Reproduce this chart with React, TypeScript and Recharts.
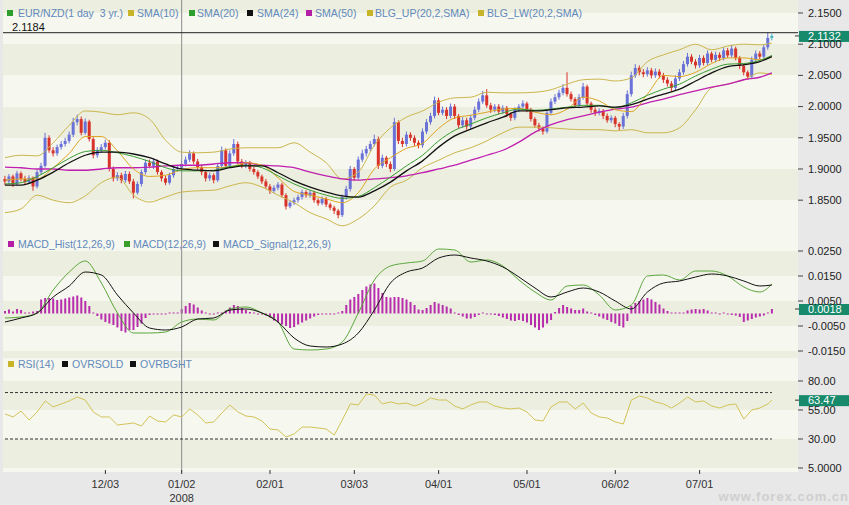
import React from "react";
import { ComposedChart, Bar, Line, XAxis, YAxis, CartesianGrid, ReferenceLine } from "recharts";

// bar slots on the x axis; bars 0..191 hold data, the rest is empty room on the right
const SLOTS = 198;

const opens = [
  1.884, 1.880, 1.888, 1.876, 1.893, 1.884, 1.879, 1.886, 1.872, 1.895,
  1.905, 1.950, 1.930, 1.925, 1.935, 1.940, 1.945, 1.955, 1.975, 1.980,
  1.958, 1.976, 1.948, 1.922, 1.930, 1.935, 1.942, 1.900, 1.885, 1.890,
  1.882, 1.892, 1.880, 1.862, 1.876, 1.895, 1.910, 1.905, 1.912, 1.895,
  1.885, 1.878, 1.890, 1.900, 1.902, 1.908, 1.915, 1.925, 1.912, 1.903,
  1.895, 1.885, 1.890, 1.882, 1.905, 1.930, 1.905, 1.925, 1.940, 1.912,
  1.905, 1.910, 1.900, 1.895, 1.888, 1.880, 1.872, 1.865, 1.870, 1.875,
  1.858, 1.840, 1.846, 1.850, 1.855, 1.863, 1.858, 1.862, 1.850, 1.845,
  1.852, 1.843, 1.838, 1.833, 1.826, 1.855, 1.868, 1.900, 1.886, 1.915,
  1.925, 1.932, 1.940, 1.948, 1.905, 1.918, 1.908, 1.900, 1.975, 1.945,
  1.940, 1.955, 1.950, 1.942, 1.938, 1.960, 1.975, 1.985, 2.010, 1.990,
  1.995, 1.985, 2.000, 1.985, 1.970, 1.978, 1.968, 1.982, 1.995, 2.008,
  2.018, 2.002, 1.995, 2.000, 1.992, 1.998, 1.988, 1.982, 1.995, 2.000,
  2.005, 1.995, 1.980, 1.970, 1.965, 1.960, 1.990, 2.008, 2.015, 2.022,
  2.030, 2.020, 2.012, 2.002, 2.015, 2.032, 2.005, 1.995, 1.990, 1.993,
  1.985, 1.978, 1.982, 1.972, 1.968, 1.985, 2.020, 2.050, 2.062, 2.055,
  2.052, 2.058, 2.050, 2.056, 2.050, 2.043, 2.037, 2.030, 2.045, 2.055,
  2.068, 2.080, 2.072, 2.066, 2.078, 2.070, 2.085, 2.075, 2.083, 2.078,
  2.090, 2.082, 2.093, 2.078, 2.065, 2.055, 2.048, 2.075, 2.085, 2.080,
  2.095, 2.110,
];

const highs = [
  1.889, 1.892, 1.891, 1.897, 1.896, 1.889, 1.890, 1.888, 1.899, 1.910,
  1.958, 1.954, 1.935, 1.939, 1.945, 1.950, 1.960, 1.982, 1.987, 1.984,
  1.981, 1.979, 1.951, 1.935, 1.940, 1.947, 1.946, 1.904, 1.895, 1.894,
  1.897, 1.896, 1.884, 1.880, 1.899, 1.915, 1.915, 1.917, 1.915, 1.898,
  1.889, 1.894, 1.904, 1.907, 1.913, 1.920, 1.930, 1.928, 1.916, 1.907,
  1.898, 1.894, 1.893, 1.909, 1.936, 1.933, 1.930, 1.948, 1.944, 1.916,
  1.914, 1.913, 1.904, 1.898, 1.891, 1.884, 1.876, 1.874, 1.879, 1.878,
  1.861, 1.850, 1.854, 1.859, 1.867, 1.866, 1.866, 1.865, 1.853, 1.856,
  1.855, 1.846, 1.841, 1.836, 1.859, 1.873, 1.905, 1.903, 1.920, 1.931,
  1.937, 1.945, 1.955, 1.952, 1.923, 1.921, 1.912, 1.982, 1.978, 1.950,
  1.960, 1.959, 1.954, 1.946, 1.965, 1.980, 1.990, 2.016, 2.014, 2.000,
  1.999, 2.005, 2.004, 1.988, 1.983, 1.982, 1.987, 2.000, 2.013, 2.025,
  2.028, 2.006, 2.004, 2.004, 2.002, 2.001, 1.991, 1.999, 2.004, 2.010,
  2.008, 1.998, 1.983, 1.974, 1.968, 1.995, 2.013, 2.020, 2.027, 2.036,
  2.055, 2.024, 2.015, 2.020, 2.038, 2.035, 2.008, 1.999, 1.997, 1.996,
  1.989, 1.986, 1.985, 1.975, 1.990, 2.026, 2.056, 2.068, 2.066, 2.060,
  2.063, 2.062, 2.061, 2.060, 2.054, 2.047, 2.041, 2.050, 2.060, 2.073,
  2.086, 2.084, 2.076, 2.083, 2.082, 2.090, 2.088, 2.088, 2.087, 2.095,
  2.094, 2.099, 2.096, 2.081, 2.068, 2.058, 2.080, 2.090, 2.089, 2.100,
  2.1184, 2.117,
];

const lows = [
  1.874, 1.876, 1.871, 1.873, 1.880, 1.875, 1.876, 1.865, 1.869, 1.891,
  1.902, 1.926, 1.920, 1.921, 1.931, 1.936, 1.941, 1.951, 1.970, 1.954,
  1.955, 1.944, 1.917, 1.918, 1.926, 1.931, 1.896, 1.880, 1.881, 1.877,
  1.878, 1.876, 1.853, 1.859, 1.872, 1.891, 1.901, 1.900, 1.891, 1.880,
  1.874, 1.875, 1.886, 1.896, 1.898, 1.904, 1.911, 1.908, 1.899, 1.890,
  1.880, 1.881, 1.877, 1.879, 1.901, 1.900, 1.902, 1.921, 1.908, 1.901,
  1.901, 1.896, 1.891, 1.884, 1.876, 1.868, 1.860, 1.861, 1.866, 1.854,
  1.835, 1.837, 1.842, 1.846, 1.851, 1.854, 1.854, 1.846, 1.841, 1.842,
  1.839, 1.834, 1.828, 1.821, 1.823, 1.851, 1.864, 1.881, 1.883, 1.911,
  1.920, 1.928, 1.936, 1.900, 1.901, 1.903, 1.895, 1.897, 1.940, 1.935,
  1.936, 1.945, 1.937, 1.933, 1.934, 1.956, 1.971, 1.981, 1.986, 1.986,
  1.980, 1.981, 1.980, 1.965, 1.966, 1.963, 1.964, 1.978, 1.991, 2.004,
  1.998, 1.990, 1.991, 1.988, 1.988, 1.983, 1.977, 1.978, 1.991, 1.996,
  1.991, 1.976, 1.966, 1.960, 1.955, 1.957, 1.986, 2.004, 2.011, 2.018,
  2.016, 2.008, 1.998, 1.998, 2.011, 2.001, 1.990, 1.985, 1.986, 1.980,
  1.974, 1.974, 1.967, 1.962, 1.964, 1.981, 2.016, 2.046, 2.050, 2.047,
  2.048, 2.045, 2.046, 2.045, 2.038, 2.032, 2.025, 2.026, 2.041, 2.051,
  2.064, 2.068, 2.061, 2.062, 2.066, 2.066, 2.071, 2.071, 2.073, 2.074,
  2.078, 2.078, 2.074, 2.060, 2.050, 2.043, 2.045, 2.071, 2.076, 2.077,
  2.091, 2.106,
];

const closes = [
  1.880, 1.888, 1.876, 1.893, 1.884, 1.879, 1.886, 1.872, 1.895, 1.905,
  1.950, 1.930, 1.925, 1.935, 1.940, 1.945, 1.955, 1.975, 1.980, 1.958,
  1.976, 1.948, 1.922, 1.930, 1.935, 1.942, 1.900, 1.885, 1.890, 1.882,
  1.892, 1.880, 1.862, 1.876, 1.895, 1.910, 1.905, 1.912, 1.895, 1.885,
  1.878, 1.890, 1.900, 1.902, 1.908, 1.915, 1.925, 1.912, 1.903, 1.895,
  1.885, 1.890, 1.882, 1.905, 1.930, 1.905, 1.925, 1.940, 1.912, 1.905,
  1.910, 1.900, 1.895, 1.888, 1.880, 1.872, 1.865, 1.870, 1.875, 1.858,
  1.840, 1.846, 1.850, 1.855, 1.863, 1.858, 1.862, 1.850, 1.845, 1.852,
  1.843, 1.838, 1.833, 1.826, 1.855, 1.868, 1.900, 1.886, 1.915, 1.925,
  1.932, 1.940, 1.948, 1.905, 1.918, 1.908, 1.900, 1.975, 1.945, 1.940,
  1.955, 1.950, 1.942, 1.938, 1.960, 1.975, 1.985, 2.010, 1.990, 1.995,
  1.985, 2.000, 1.985, 1.970, 1.978, 1.968, 1.982, 1.995, 2.008, 2.018,
  2.002, 1.995, 2.000, 1.992, 1.998, 1.988, 1.982, 1.995, 2.000, 2.005,
  1.995, 1.980, 1.970, 1.965, 1.960, 1.990, 2.008, 2.015, 2.022, 2.030,
  2.020, 2.012, 2.002, 2.015, 2.032, 2.005, 1.995, 1.990, 1.993, 1.985,
  1.978, 1.982, 1.972, 1.968, 1.985, 2.020, 2.050, 2.062, 2.055, 2.052,
  2.058, 2.050, 2.056, 2.050, 2.043, 2.037, 2.030, 2.045, 2.055, 2.068,
  2.080, 2.072, 2.066, 2.078, 2.070, 2.085, 2.075, 2.083, 2.078, 2.090,
  2.082, 2.093, 2.078, 2.065, 2.055, 2.048, 2.075, 2.085, 2.080, 2.095,
  2.110, 2.1132,
];

// indicator lines every 4th bar (plus the last bar)
const lineBars = [...Array.from({ length: 48 }, (_, k) => k * 4), 191];

const sma10 = [
  1.882, 1.884, 1.884, 1.902, 1.925, 1.952, 1.952, 1.929, 1.900, 1.888,
  1.890, 1.899, 1.902, 1.902, 1.903, 1.910, 1.906, 1.886, 1.864, 1.858,
  1.852, 1.846, 1.862, 1.900, 1.918, 1.933, 1.941, 1.965, 1.982, 1.986,
  1.991, 1.996, 1.997, 1.991, 1.987, 1.996, 2.015, 2.009, 1.995, 1.992,
  2.020, 2.050, 2.048, 2.055, 2.069, 2.078, 2.078, 2.075, 2.080,
];
const sma20 = [
  1.876, 1.878, 1.888, 1.902, 1.917, 1.928, 1.930, 1.926, 1.920, 1.912,
  1.902, 1.897, 1.897, 1.898, 1.904, 1.906, 1.902, 1.889, 1.876, 1.866,
  1.858, 1.853, 1.856, 1.870, 1.887, 1.905, 1.922, 1.945, 1.962, 1.972,
  1.982, 1.990, 1.996, 1.994, 1.996, 1.999, 2.002, 2.002, 1.998, 2.006,
  2.018, 2.028, 2.036, 2.049, 2.060, 2.068, 2.069, 2.074, 2.082,
];
const sma24 = [
  1.874, 1.874, 1.882, 1.895, 1.910, 1.922, 1.927, 1.927, 1.924, 1.918,
  1.908, 1.900, 1.898, 1.897, 1.902, 1.905, 1.905, 1.894, 1.881, 1.871,
  1.863, 1.857, 1.855, 1.865, 1.879, 1.897, 1.913, 1.935, 1.953, 1.964,
  1.974, 1.983, 1.993, 1.993, 1.995, 1.998, 1.999, 2.001, 1.999, 2.003,
  2.012, 2.020, 2.028, 2.041, 2.054, 2.064, 2.067, 2.072, 2.080,
];
const sma50 = [
  1.903, 1.902, 1.900, 1.900, 1.898, 1.898, 1.900, 1.902, 1.902, 1.903,
  1.905, 1.906, 1.906, 1.908, 1.910, 1.910, 1.906, 1.905, 1.902, 1.895,
  1.889, 1.884, 1.882, 1.884, 1.886, 1.889, 1.894, 1.900, 1.906, 1.914,
  1.922, 1.930, 1.943, 1.959, 1.971, 1.979, 1.985, 1.991, 1.996, 1.999,
  2.006, 2.012, 2.019, 2.025, 2.031, 2.036, 2.043, 2.047, 2.054,
];
const bbUpper = [
  1.918, 1.922, 1.921, 1.942, 1.970, 1.993, 1.991, 1.987, 1.990, 1.980,
  1.946, 1.927, 1.926, 1.927, 1.932, 1.934, 1.934, 1.934, 1.942, 1.927,
  1.910, 1.884, 1.895, 1.938, 1.966, 1.983, 1.993, 2.007, 2.014, 2.015,
  2.023, 2.022, 2.022, 2.023, 2.027, 2.036, 2.043, 2.044, 2.041, 2.046,
  2.072, 2.083, 2.091, 2.100, 2.091, 2.097, 2.100, 2.099, 2.102,
];
const bbLower = [
  1.830, 1.836, 1.858, 1.850, 1.846, 1.857, 1.878, 1.887, 1.858, 1.847,
  1.855, 1.863, 1.865, 1.866, 1.873, 1.878, 1.871, 1.858, 1.846, 1.830,
  1.820, 1.809, 1.820, 1.841, 1.871, 1.882, 1.902, 1.914, 1.926, 1.934,
  1.945, 1.958, 1.967, 1.967, 1.966, 1.964, 1.963, 1.963, 1.961, 1.963,
  1.958, 1.958, 1.966, 1.995, 2.030, 2.036, 2.043, 2.054, 2.051,
];

const macd = [
  -0.0018, -0.0014, 0.0002, 0.0094, 0.0166, 0.0210, 0.0122, 0.0002, -0.0078, -0.0078,
  -0.0074, -0.0034, -0.0022, -0.0026, 0.0018, 0.0026, 0.0002, -0.0034, -0.0142, -0.0146,
  -0.0142, -0.0114, 0.0002, 0.0134, 0.0190, 0.0202, 0.0210, 0.0258, 0.0254, 0.0206,
  0.0214, 0.0190, 0.0134, 0.0086, 0.0054, 0.0110, 0.0114, 0.0074, 0.0014, 0.0034,
  0.0150, 0.0154, 0.0134, 0.0170, 0.0170, 0.0150, 0.0106, 0.0086, 0.0118,
];
const macdSignal = [
  -0.0034, -0.0018, 0.0002, 0.0066, 0.0110, 0.0166, 0.0154, 0.0074, 0.0002, -0.0058,
  -0.0066, -0.0054, -0.0022, -0.0018, 0.0014, 0.0018, 0.0002, -0.0034, -0.0098, -0.0130,
  -0.0134, -0.0122, -0.0078, 0.0014, 0.0122, 0.0166, 0.0182, 0.0222, 0.0234, 0.0222,
  0.0210, 0.0186, 0.0146, 0.0102, 0.0066, 0.0086, 0.0102, 0.0086, 0.0050, 0.0018,
  0.0086, 0.0122, 0.0130, 0.0146, 0.0158, 0.0150, 0.0130, 0.0110, 0.0114,
];

// histogram, one value per bar
const macdHist = [
  0.0010, 0.0016, 0.0008, 0.0018, 0.0014, 0.0004, 0.0002, 0.0008, 0.0010, 0.0056,
  0.0062, 0.0062, 0.0060, 0.0054, 0.0056, 0.0060, 0.0064, 0.0068, 0.0072, 0.0064,
  0.0050, 0.0030, 0.0004, -0.0010, -0.0024, -0.0034, -0.0040, -0.0046, -0.0056, -0.0070,
  -0.0076, -0.0066, -0.0066, -0.0054, -0.0040, -0.0018, -0.0006, -0.0004, -0.0002, -0.0004,
  -0.0002, 0.0000, 0.0002, 0.0004, 0.0018, 0.0030, 0.0042, 0.0036, 0.0024, 0.0012,
  0.0004, -0.0002, -0.0004, 0.0002, 0.0004, 0.0012, 0.0024, 0.0034, 0.0030, 0.0022,
  0.0014, 0.0006, 0.0002, -0.0002, -0.0004, -0.0008, -0.0016, -0.0028, -0.0036, -0.0044,
  -0.0050, -0.0058, -0.0054, -0.0044, -0.0036, -0.0028, -0.0020, -0.0012, -0.0006, -0.0004,
  -0.0002, -0.0004, -0.0002, 0.0000, 0.0010, 0.0034, 0.0056, 0.0066, 0.0078, 0.0094,
  0.0108, 0.0116, 0.0120, 0.0102, 0.0082, 0.0066, 0.0064, 0.0066, 0.0066, 0.0062,
  0.0056, 0.0046, 0.0034, 0.0016, 0.0014, 0.0022, 0.0034, 0.0046, 0.0040, 0.0034,
  0.0028, 0.0020, 0.0004, -0.0006, -0.0012, -0.0020, -0.0020, -0.0014, -0.0006, 0.0000,
  -0.0002, -0.0004, -0.0006, -0.0010, -0.0016, -0.0022, -0.0028, -0.0030, -0.0026, -0.0030,
  -0.0036, -0.0046, -0.0056, -0.0066, -0.0056, -0.0040, -0.0026, 0.0006, 0.0022, 0.0034,
  0.0026, 0.0020, 0.0014, 0.0014, 0.0020, 0.0008, 0.0002, -0.0006, -0.0012, -0.0020,
  -0.0026, -0.0034, -0.0040, -0.0050, -0.0056, -0.0030, 0.0030, 0.0042, 0.0050, 0.0056,
  0.0062, 0.0056, 0.0046, 0.0036, 0.0020, 0.0010, 0.0004, 0.0000, 0.0000, 0.0004,
  0.0012, 0.0016, 0.0018, 0.0016, 0.0018, 0.0012, 0.0002, 0.0000, -0.0002, 0.0000,
  -0.0004, -0.0006, -0.0008, -0.0014, -0.0034, -0.0028, -0.0022, -0.0016, -0.0012, -0.0008,
  0.0004, 0.0018,
];

// RSI read every 2nd bar (plus the last bar)
const rsiBars = [...Array.from({ length: 96 }, (_, k) => k * 2), 191];
const rsi = [
  51.6, 49.0, 54.1, 46.4, 53.3, 62.8, 57.6, 60.2, 62.8, 66.2,
  63.6, 53.3, 49.0, 49.0, 42.1, 42.9, 43.8, 41.2, 49.8, 45.5,
  44.7, 50.7, 49.0, 55.9, 50.7, 43.8, 44.7, 52.4, 59.3, 53.3,
  49.8, 49.0, 45.5, 38.6, 37.8, 31.7, 34.3, 40.3, 40.3, 39.5,
  38.6, 33.4, 46.4, 60.2, 59.3, 68.8, 67.9, 60.2, 61.9, 60.2,
  61.0, 58.4, 61.0, 65.3, 63.6, 63.6, 58.4, 55.9, 59.3, 61.9,
  61.9, 58.4, 56.7, 55.9, 56.7, 53.3, 46.4, 45.5, 57.6, 61.9,
  61.9, 55.9, 61.0, 52.4, 49.0, 48.1, 44.7, 42.9, 63.6, 67.1,
  65.3, 61.9, 60.2, 56.7, 61.0, 66.2, 61.9, 62.8, 58.4, 56.7,
  59.3, 60.2, 47.2, 55.0, 56.7, 60.2, 63.47,
];
const oversold = 30;
const overbought = 70;

const priceTicks = [1.85, 1.9, 1.95, 2.0, 2.05, 2.1, 2.15];
const macdTicks = [-0.015, -0.005, 0.005, 0.015, 0.025];
const rsiTicks = [5, 30, 55, 80];
const rsiTickLabels = ["5.0000", "30.00", "55.00", "80.00"];
const dateTickBars = [25, 44, 66, 87, 108, 130, 152, 173];
const dateTickLabels = ["12/03", "01/02", "02/01", "03/03", "04/01", "05/01", "06/02", "07/01"];
const yearBar = 44;
const yearLabel = "2008";

const lastBar = closes.length - 1;
const maxHigh = Math.max(...highs);

const rows: any[] = Array.from({ length: SLOTS }, (_, i) => ({
  i,
  open: opens[i] ?? null,
  high: highs[i] ?? null,
  low: lows[i] ?? null,
  close: closes[i] ?? null,
  hist: macdHist[i] ?? null,
}));
lineBars.forEach((b, k) => {
  Object.assign(rows[b], {
    sma10: sma10[k], sma20: sma20[k], sma24: sma24[k], sma50: sma50[k],
    bbUp: bbUpper[k], bbLow: bbLower[k], macd: macd[k], signal: macdSignal[k],
  });
});
rsiBars.forEach((b, k) => {
  rows[b].rsi = rsi[k];
});

const LIGHT = "#f6f7ef";
const DARK = "#eceedf";
const AXIS_TEXT = { fill: "#222", fontSize: 11 };

const candleRange = (d: any) => (d.low == null ? null : [d.low, d.high]);

function Candle(props: any) {
  const { x, y, width, height, payload } = props;
  if (!payload || payload.open == null) return null;
  const { open, close, high, low } = payload;
  const top = Math.min(y, y + height);
  const h = Math.abs(height);
  const span = high - low || 1e-6;
  const py = (v: number) => top + ((high - v) / span) * h;
  const cx = x + width / 2;
  const color = payload.i === lastBar ? "#45b5c4" : close >= open ? "#6a72d8" : "#d8332b";
  const bodyTop = py(Math.max(open, close));
  const bodyBot = py(Math.min(open, close));
  return (
    <g>
      <line x1={cx} x2={cx} y1={top} y2={top + h} stroke={color} strokeWidth={1} />
      <rect x={cx - 1.5} y={bodyTop} width={3} height={Math.max(1, bodyBot - bodyTop)} fill={color} />
    </g>
  );
}

function valueBox(text: string) {
  return (p: any) => {
    const vb = p.viewBox;
    const x = vb.x + vb.width;
    return (
      <g>
        <line x1={x - 3} x2={x + 1} y1={vb.y} y2={vb.y} stroke="#333" />
        <rect x={x + 1} y={vb.y - 5} width={52} height={11} fill="#168a6b" />
        <text x={x + 10} y={vb.y + 4} fontSize={11} fill="#fff">{text}</text>
      </g>
    );
  };
}

function highLabel(p: any) {
  const vb = p.viewBox;
  return (
    <text x={vb.x + 9} y={vb.y - 2} fontSize={11} fill="#111">
      {maxHigh.toFixed(4)}
    </text>
  );
}

function DateTick(props: any) {
  const { x, y, payload } = props;
  const k = dateTickBars.indexOf(payload.value);
  return (
    <g>
      <line x1={x} x2={x} y1={y - 2} y2={y + 2} stroke="#333" />
      <text x={x} y={y + 16} textAnchor="middle" fontSize={11} fill="#333">{dateTickLabels[k]}</text>
      {payload.value === yearBar && (
        <text x={x} y={y + 30} textAnchor="middle" fontSize={11} fill="#333">{yearLabel}</text>
      )}
    </g>
  );
}

const legends: [number, number, string, string][][] = [
  [
    [7, 18, "#2e9e2e", "EUR/NZD(1 day  3 yr.)"],
    [128, 137, "#c8b428", "SMA(10)"],
    [189, 197, "#2e9e2e", "SMA(20)"],
    [247, 257, "#111", "SMA(24)"],
    [306, 315, "#b41fa6", "SMA(50)"],
    [367, 375, "#c8b428", "BLG_UP(20,2,SMA)"],
    [478, 487, "#c8b428", "BLG_LW(20,2,SMA)"],
  ],
  [
    [8, 18, "#b41fa6", "MACD_Hist(12,26,9)"],
    [124, 133, "#3a9e2a", "MACD(12,26,9)"],
    [213, 223, "#111", "MACD_Signal(12,26,9)"],
  ],
  [
    [8, 18, "#c8b428", "RSI(14)"],
    [62, 72, "#111", "OVRSOLD"],
    [130, 140, "#111", "OVRBGHT"],
  ],
];
const legendTops = [7, 238, 358];

function Legend({ top, items }: { top: number; items: [number, number, string, string][] }) {
  return (
    <>
      {items.map(([sx, tx, color, label]) => (
        <React.Fragment key={label}>
          <div style={{ position: "absolute", left: sx, top: top + 3, width: 6, height: 6, background: color }} />
          <div
            style={{
              position: "absolute", left: tx, top, fontSize: 10.5, lineHeight: "12px",
              color: "#6189bb", whiteSpace: "pre",
            }}
          >
            {label}
          </div>
        </React.Fragment>
      ))}
    </>
  );
}

const yAxisProps = {
  orientation: "right" as const,
  width: 51,
  axisLine: false,
  tickLine: { stroke: "#444" },
  tickSize: 5,
  tickMargin: 5,
  tick: AXIS_TEXT,
  interval: 0 as const,
  allowDataOverflow: true,
};

export default function App() {
  return (
    <div
      style={{
        position: "absolute", left: 0, top: 0, width: 849, height: 505, overflow: "hidden",
        background: "#e8e8e8", fontFamily: "'Liberation Sans', Arial, sans-serif",
      }}
    >
      <div style={{ position: "absolute", left: 0, top: 0 }}>
        <ComposedChart width={849} height={232} data={rows} margin={{ top: 0, right: 0, bottom: 0, left: 3 }}>
          <CartesianGrid vertical={false} stroke="none" horizontalFill={[DARK, LIGHT]} />
          <XAxis dataKey="i" type="category" scale="band" hide />
          <YAxis {...yAxisProps} domain={[1.799, 2.1708]} ticks={priceTicks} tickFormatter={(v: number) => v.toFixed(4)} />
          <ReferenceLine x={yearBar} stroke="#8c8c8c" />
          <Bar dataKey={candleRange} shape={Candle} isAnimationActive={false} />
          <Line dataKey="bbUp" type="monotone" stroke="#cbb64c" strokeWidth={1} dot={false} connectNulls isAnimationActive={false} />
          <Line dataKey="bbLow" type="monotone" stroke="#cbb64c" strokeWidth={1} dot={false} connectNulls isAnimationActive={false} />
          <Line dataKey="sma50" type="monotone" stroke="#c01fb0" strokeWidth={1.3} dot={false} connectNulls isAnimationActive={false} />
          <Line dataKey="sma10" type="monotone" stroke="#dea521" strokeWidth={1} dot={false} connectNulls isAnimationActive={false} />
          <Line dataKey="sma20" type="monotone" stroke="#3a9c32" strokeWidth={1} dot={false} connectNulls isAnimationActive={false} />
          <Line dataKey="sma24" type="monotone" stroke="#111" strokeWidth={1.3} dot={false} connectNulls isAnimationActive={false} />
          <ReferenceLine y={maxHigh} stroke="#222" label={highLabel} />
          <ReferenceLine y={closes[lastBar]} stroke="none" label={valueBox(closes[lastBar].toFixed(4))} />
        </ComposedChart>
      </div>

      <div style={{ position: "absolute", left: 0, top: 232 }}>
        <ComposedChart width={849} height={126} data={rows} margin={{ top: 0, right: 0, bottom: 0, left: 3 }}>
          <CartesianGrid vertical={false} stroke="none" horizontalFill={[LIGHT, DARK]} />
          <XAxis dataKey="i" type="category" scale="band" hide />
          <YAxis {...yAxisProps} domain={[-0.0178, 0.0326]} ticks={macdTicks} tickFormatter={(v: number) => v.toFixed(4)} />
          <ReferenceLine x={yearBar} stroke="#8c8c8c" />
          <Bar dataKey="hist" fill="#b82cae" barSize={2} minPointSize={1} isAnimationActive={false} />
          <Line dataKey="macd" type="monotone" stroke="#5aa63c" strokeWidth={1} dot={false} connectNulls isAnimationActive={false} />
          <Line dataKey="signal" type="monotone" stroke="#111" strokeWidth={1} dot={false} connectNulls isAnimationActive={false} />
          <ReferenceLine y={macdHist[lastBar]} stroke="none" label={valueBox(macdHist[lastBar].toFixed(4))} />
        </ComposedChart>
      </div>

      <div style={{ position: "absolute", left: 0, top: 358 }}>
        <ComposedChart width={849} height={147} data={rows} margin={{ top: 0, right: 0, bottom: 0, left: 3 }}>
          <CartesianGrid vertical={false} stroke="none" horizontalFill={[LIGHT, DARK]} />
          <XAxis
            dataKey="i" type="category" scale="band" ticks={dateTickBars} interval={0}
            tick={<DateTick />} tickLine={false} axisLine={false} tickSize={0} tickMargin={0} height={33}
          />
          <YAxis
            {...yAxisProps} domain={[1.55, 99.8]} ticks={rsiTicks}
            tickFormatter={(v: number) => rsiTickLabels[rsiTicks.indexOf(v)]}
          />
          <ReferenceLine x={yearBar} stroke="#8c8c8c" />
          <ReferenceLine segment={[{ x: 0, y: overbought }, { x: lastBar, y: overbought }]} stroke="#333" strokeDasharray="3 2" />
          <ReferenceLine segment={[{ x: 0, y: oversold }, { x: lastBar, y: oversold }]} stroke="#333" strokeDasharray="3 2" />
          <Line dataKey="rsi" type="linear" stroke="#d3c258" strokeWidth={1} dot={false} connectNulls isAnimationActive={false} />
          <ReferenceLine y={rsi[rsi.length - 1]} stroke="none" label={valueBox(rsi[rsi.length - 1].toFixed(2))} />
        </ComposedChart>
      </div>

      {legends.map((items, k) => (
        <Legend key={k} top={legendTops[k]} items={items} />
      ))}

      <div
        style={{
          position: "absolute", right: 0, top: 489, fontSize: 13, fontWeight: "bold",
          color: "#cfcfcf", letterSpacing: 1,
        }}
      >
        www.forex.com.cn
      </div>
    </div>
  );
}
